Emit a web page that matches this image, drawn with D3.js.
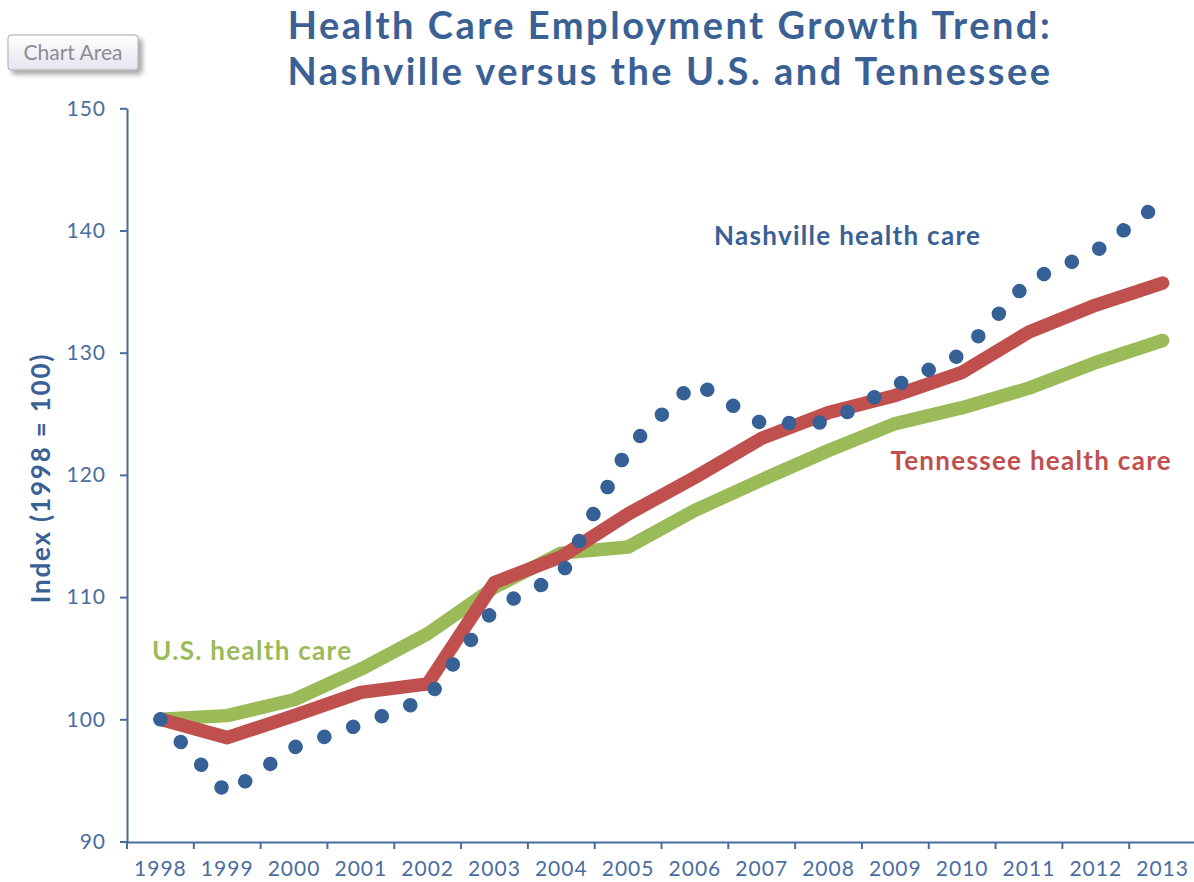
<!DOCTYPE html>
<html>
<head>
<meta charset="utf-8">
<script src="https://cdn.jsdelivr.net/npm/d3@7"></script>
<style>
  html, body { margin: 0; padding: 0; background: #ffffff; }
  svg { display: block; }
  text { font-family: Lato, "Open Sans", sans-serif; }
</style>
</head>
<body>
<svg id="chart" width="1194" height="882"></svg>
<script>
// Health care employment index, 1998 = 100
const years = ["1998","1999","2000","2001","2002","2003","2004","2005",
               "2006","2007","2008","2009","2010","2011","2012","2013"];
const usHealthCare        = [100, 100.3, 101.6, 104.1, 107.0, 110.8, 113.6, 114.1,
                             117.1, 119.6, 122.0, 124.2, 125.5, 127.1, 129.2, 131.0];
const tennesseeHealthCare = [100, 98.5, 100.3, 102.2, 102.9, 111.2, 113.3, 116.8,
                             119.8, 123.0, 125.1, 126.5, 128.4, 131.7, 133.9, 135.7];
const nashvilleHealthCare = [100, 93.9, 97.7, 99.6, 101.7, 109.1, 111.8, 122.2,
                             127.6, 124.2, 124.3, 127.3, 129.9, 135.9, 138.3, 142.4];
const yTicks = [90, 100, 110, 120, 130, 140, 150];

const titleLines = ["Health Care Employment Growth Trend:",
                    "Nashville versus the U.S. and Tennessee"];
const yAxisTitle = "Index (1998 = 100)";

const AXIS = "#4a6c9c";
const TICK_TEXT = "#4a6da0";
const BLUE = "#3a6195";
const RED = "#c0504d";
const GREEN = "#9bbb59";

const svg = d3.select("#chart");

const x = d3.scaleBand().domain(years).range([127, 1196]).paddingInner(0).paddingOuter(0);
const y = d3.scaleLinear().domain([90, 150]).range([841.5, 108.3]);
const cx = d => x(d) + x.bandwidth() / 2;

// drop-shadow for the "Chart Area" hint box
const defs = svg.append("defs");
const shadow = defs.append("filter").attr("id", "hintShadow")
  .attr("x", "-20%").attr("y", "-30%").attr("width", "150%").attr("height", "180%");
shadow.append("feDropShadow").attr("dx", 4).attr("dy", 4).attr("stdDeviation", 2.5)
  .attr("flood-color", "#000").attr("flood-opacity", 0.35);
const grad = defs.append("linearGradient").attr("id", "hintFill")
  .attr("x1", 0).attr("y1", 0).attr("x2", 0).attr("y2", 1);
grad.append("stop").attr("offset", "0%").attr("stop-color", "#ffffff");
grad.append("stop").attr("offset", "100%").attr("stop-color", "#e4e5ee");

// Title
svg.append("g").selectAll("text").data(titleLines).join("text")
  .attr("x", 670).attr("y", (d, i) => 39 + i * 46)
  .attr("text-anchor", "middle")
  .attr("font-size", 38).attr("font-weight", 700)
  .attr("letter-spacing", 2.5)
  .attr("fill", BLUE)
  .text(d => d);

// Y axis
const yAxis = svg.append("g").attr("transform", "translate(127,0)")
  .call(d3.axisLeft(y).tickValues(yTicks).tickSize(7).tickPadding(14).tickSizeOuter(0));
yAxis.select(".domain").attr("stroke", AXIS).attr("stroke-width", 2);
yAxis.selectAll(".tick line").attr("stroke", AXIS).attr("stroke-width", 2);
yAxis.selectAll(".tick text").attr("fill", TICK_TEXT)
  .attr("font-size", 21).attr("letter-spacing", 1).attr("font-family", "Lato, sans-serif");

// X axis: labels centred in each category, tick marks between categories
const xAxis = svg.append("g").attr("transform", "translate(0,842)")
  .call(d3.axisBottom(x).tickSize(0).tickPadding(19).tickSizeOuter(0));
xAxis.select(".domain").attr("stroke", AXIS).attr("stroke-width", 2);
xAxis.selectAll(".tick text").attr("fill", TICK_TEXT)
  .attr("font-size", 21).attr("letter-spacing", 1).attr("font-family", "Lato, sans-serif");
const bounds = years.map(d => x(d)).concat([x(years[years.length - 1]) + x.bandwidth()]);
xAxis.append("g").selectAll("line").data(bounds).join("line")
  .attr("x1", d => d).attr("x2", d => d)
  .attr("y1", 0).attr("y2", 7)
  .attr("stroke", AXIS).attr("stroke-width", 2);

// Y axis title
svg.append("text")
  .attr("transform", "translate(50,478) rotate(-90)")
  .attr("text-anchor", "middle")
  .attr("font-size", 26).attr("font-weight", 700)
  .attr("letter-spacing", 1.8)
  .attr("fill", BLUE)
  .text(yAxisTitle);

// Series lines
const line = d3.line()
  .x((d, i) => cx(years[i]))
  .y(d => y(d));

const series = [
  { name: "us", values: usHealthCare, color: GREEN, dash: null },
  { name: "tn", values: tennesseeHealthCare, color: RED, dash: null },
  { name: "nash", values: nashvilleHealthCare, color: "#356197", dash: "0.01 30.5" }
];

svg.append("g").selectAll("path").data(series).join("path")
  .attr("d", s => line(s.values))
  .attr("fill", "none")
  .attr("stroke", s => s.color)
  .attr("stroke-width", s => s.dash ? 14.5 : 13.5)
  .attr("stroke-linejoin", "round")
  .attr("stroke-linecap", "round")
  .attr("stroke-dasharray", s => s.dash);

// Series labels
const labels = [
  { text: "Nashville health care", x: 714, y: 245, anchor: "start", color: BLUE },
  { text: "Tennessee health care", x: 1172, y: 470, anchor: "end", color: RED },
  { text: "U.S. health care", x: 152, y: 660, anchor: "start", color: GREEN }
];
svg.append("g").selectAll("text").data(labels).join("text")
  .attr("x", d => d.x).attr("y", d => d.y)
  .attr("text-anchor", d => d.anchor)
  .attr("font-size", 26).attr("font-weight", 700)
  .attr("letter-spacing", 1.3)
  .attr("fill", d => d.color)
  .text(d => d.text);

// "Chart Area" hint box
const hint = svg.append("g").attr("transform", "translate(8,35)");
hint.append("rect")
  .attr("width", 130).attr("height", 35).attr("rx", 3)
  .attr("fill", "url(#hintFill)")
  .attr("stroke", "#a9a9ad").attr("stroke-width", 1)
  .attr("filter", "url(#hintShadow)");
hint.append("text")
  .attr("x", 65).attr("y", 24.5)
  .attr("text-anchor", "middle")
  .attr("font-family", "'Open Sans', 'Noto Sans', sans-serif")
  .attr("font-size", 21)
  .attr("fill", "#8d8c92")
  .text("Chart Area");
</script>
</body>
</html>
